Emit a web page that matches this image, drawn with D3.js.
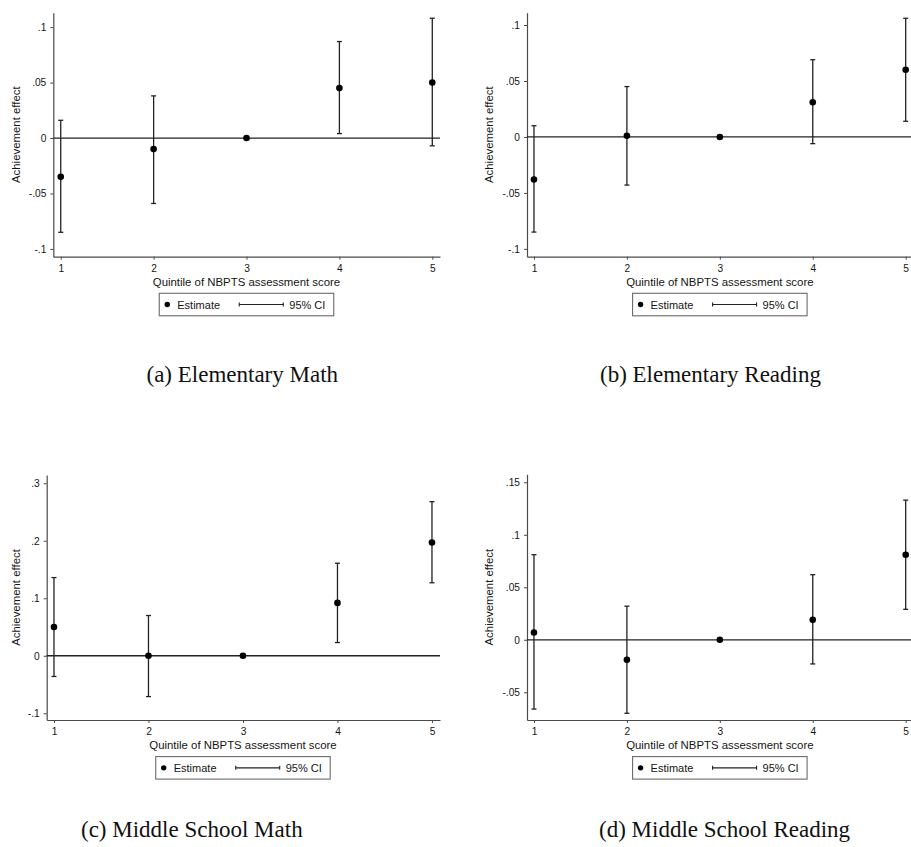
<!DOCTYPE html>
<html>
<head>
<meta charset="utf-8">
<script src="https://cdn.jsdelivr.net/npm/d3@7"></script>
<style>
  body { margin: 0; background: #fff; }
  svg { display: block; }
  .tick text { font-family: "Liberation Sans", Arial, sans-serif; font-size: 10.2px; fill: #151515; }
  .axis-title, .legend text { font-family: "Liberation Sans", Arial, sans-serif; fill: #151515; }
  .caption { font-family: "Liberation Serif", "Times New Roman", serif; font-size: 23px; fill: #111; }
</style>
</head>
<body>
<div id="chart"></div>
<script>
// Quintiles of NBPTS assessment score (x categories)
var quintiles = [1, 2, 3, 4, 5];

// (a) Elementary Math
var elemMathEst = [-0.035, -0.010, 0, 0.045, 0.050];
var elemMathLo  = [-0.085, -0.059, 0, 0.004, -0.007];
var elemMathHi  = [0.016, 0.038, 0, 0.087, 0.108];

// (b) Elementary Reading
var elemReadEst = [-0.038, 0.001, 0, 0.031, 0.060];
var elemReadLo  = [-0.085, -0.043, 0, -0.006, 0.014];
var elemReadHi  = [0.010, 0.045, 0, 0.069, 0.106];

// (c) Middle School Math
var midMathEst = [0.050, 0.000, 0, 0.092, 0.197];
var midMathLo  = [-0.036, -0.071, 0, 0.023, 0.127];
var midMathHi  = [0.136, 0.070, 0, 0.161, 0.268];

// (d) Middle School Reading
var midReadEst = [0.007, -0.019, 0, 0.019, 0.081];
var midReadLo  = [-0.066, -0.070, 0, -0.023, 0.029];
var midReadHi  = [0.081, 0.032, 0, 0.062, 0.133];

// Tick values and labels
var yTicksSmall = [-0.1, -0.05, 0, 0.05, 0.1];
var yLabelsSmall = ["-.1", "-.05", "0", ".05", ".1"];
var yTicksMidMath = [-0.1, 0, 0.1, 0.2, 0.3];
var yLabelsMidMath = ["-.1", "0", ".1", ".2", ".3"];
var yTicksMidRead = [-0.05, 0, 0.05, 0.1, 0.15];
var yLabelsMidRead = ["-.05", "0", ".05", ".1", ".15"];

var captions = ["(a) Elementary Math", "(b) Elementary Reading",
                "(c) Middle School Math", "(d) Middle School Reading"];

var xTitle = "Quintile of NBPTS assessment score";
var yTitle = "Achievement effect";

var width = 911;
var height = 847;

// Panel layout (pixel boxes of each plot region)
var panels = [
    { est: elemMathEst, lo: elemMathLo, hi: elemMathHi, ticks: yTicksSmall, labels: yLabelsSmall,
      left: 53.3, right: 440, top: 12.7, bottom: 256.7, xDom: [0.92, 5.083], yDom: [-0.107, 0.113],
      yTitleX: 19.5, caption: captions[0], capX: 146.5, capY: 381.7 },
    { est: elemReadEst, lo: elemReadLo, hi: elemReadHi, ticks: yTicksSmall, labels: yLabelsSmall,
      left: 527, right: 913.4, top: 12.7, bottom: 256.7, xDom: [0.925, 5.083], yDom: [-0.107, 0.111],
      yTitleX: 493, caption: captions[1], capX: 600, capY: 381.7 },
    { est: midMathEst, lo: midMathLo, hi: midMathHi, ticks: yTicksMidMath, labels: yLabelsMidMath,
      left: 46.7, right: 440, top: 475, bottom: 720, xDom: [0.923, 5.085], yDom: [-0.1117, 0.3144],
      yTitleX: 19.5, caption: captions[2], capX: 81, capY: 836.5 },
    { est: midReadEst, lo: midReadLo, hi: midReadHi, ticks: yTicksMidRead, labels: yLabelsMidRead,
      left: 527, right: 913.4, top: 474.3, bottom: 720, xDom: [0.925, 5.083], yDom: [-0.0764, 0.1576],
      yTitleX: 493, caption: captions[3], capX: 599, capY: 836.5 }
];

var svg = d3.select("#chart").append("svg")
    .attr("width", width)
    .attr("height", height);

var ink = "#222";

panels.forEach(function(p) {
    var x = d3.scaleLinear().domain(p.xDom).range([p.left, p.right]);
    var y = d3.scaleLinear().domain(p.yDom).range([p.bottom, p.top]);
    var g = svg.append("g");

    var data = quintiles.map(function(q, i) {
        return { q: q, est: p.est[i], lo: p.lo[i], hi: p.hi[i] };
    });

    // Y axis
    var yAxis = d3.axisLeft(y)
        .tickValues(p.ticks)
        .tickFormat(function(d, i) { return p.labels[i]; })
        .tickSize(3)
        .tickPadding(4)
        .tickSizeOuter(0);
    var ya = g.append("g")
        .attr("transform", "translate(" + p.left + ",0)")
        .call(yAxis);

    // X axis
    var xAxis = d3.axisBottom(x)
        .tickValues(quintiles)
        .tickFormat(d3.format("d"))
        .tickSize(3)
        .tickPadding(5)
        .tickSizeOuter(0);
    var xa = g.append("g")
        .attr("transform", "translate(0," + p.bottom + ")")
        .call(xAxis);

    [ya, xa].forEach(function(a) {
        a.select(".domain").attr("stroke", "#4a4a4a").attr("stroke-width", 1.2);
        a.selectAll(".tick line").attr("stroke", "#4a4a4a");
    });

    // Reference line at zero
    g.append("line")
        .attr("x1", p.left).attr("x2", p.right)
        .attr("y1", y(0)).attr("y2", y(0))
        .attr("stroke", ink)
        .attr("stroke-width", 1.3);

    // Confidence intervals
    var ci = g.selectAll(".ci").data(data).enter().append("g").attr("class", "ci");
    ci.append("line")
        .attr("x1", function(d) { return x(d.q); })
        .attr("x2", function(d) { return x(d.q); })
        .attr("y1", function(d) { return y(d.lo); })
        .attr("y2", function(d) { return y(d.hi); })
        .attr("stroke", ink).attr("stroke-width", 1.3);
    ["lo", "hi"].forEach(function(k) {
        ci.append("line")
            .attr("x1", function(d) { return x(d.q) - 2.5; })
            .attr("x2", function(d) { return x(d.q) + 2.5; })
            .attr("y1", function(d) { return y(d[k]); })
            .attr("y2", function(d) { return y(d[k]); })
            .attr("stroke", ink).attr("stroke-width", 1.3);
    });

    // Point estimates
    g.selectAll(".dot").data(data).enter().append("circle")
        .attr("class", "dot")
        .attr("cx", function(d) { return x(d.q); })
        .attr("cy", function(d) { return y(d.est); })
        .attr("r", 3.3)
        .attr("fill", "#000");

    // Axis titles
    var cx = x(3);
    g.append("text")
        .attr("class", "axis-title")
        .attr("x", cx)
        .attr("y", p.bottom + 29)
        .attr("text-anchor", "middle")
        .style("font-size", "11.4px")
        .text(xTitle);

    g.append("text")
        .attr("class", "axis-title")
        .attr("transform", "translate(" + p.yTitleX + "," + ((p.top + p.bottom) / 2) + ") rotate(-90)")
        .attr("text-anchor", "middle")
        .style("font-size", "11.4px")
        .text(yTitle);

    // Legend
    var lw = 174.5, lh = 22.5;
    var lg = g.append("g")
        .attr("class", "legend")
        .attr("transform", "translate(" + (cx - lw / 2) + "," + (p.bottom + 36.6) + ")");
    lg.append("rect")
        .attr("width", lw).attr("height", lh)
        .attr("fill", "#fff")
        .attr("stroke", "#6a6a6a")
        .attr("stroke-width", 1.1);
    lg.append("circle")
        .attr("cx", 8).attr("cy", lh / 2).attr("r", 2.7).attr("fill", "#000");
    lg.append("text")
        .attr("x", 18).attr("y", lh / 2).attr("dy", "0.36em")
        .style("font-size", "11px")
        .text("Estimate");
    lg.append("line")
        .attr("x1", 80).attr("x2", 124).attr("y1", lh / 2).attr("y2", lh / 2)
        .attr("stroke", ink).attr("stroke-width", 1.1);
    [80, 124].forEach(function(px) {
        lg.append("line")
            .attr("x1", px).attr("x2", px).attr("y1", lh / 2 - 2).attr("y2", lh / 2 + 2)
            .attr("stroke", ink).attr("stroke-width", 1.1);
    });
    lg.append("text")
        .attr("x", 130).attr("y", lh / 2).attr("dy", "0.36em")
        .style("font-size", "11px")
        .text("95% CI");

    // Panel caption
    svg.append("text")
        .attr("class", "caption")
        .attr("x", p.capX)
        .attr("y", p.capY)
        .text(p.caption);
});
</script>
</body>
</html>
